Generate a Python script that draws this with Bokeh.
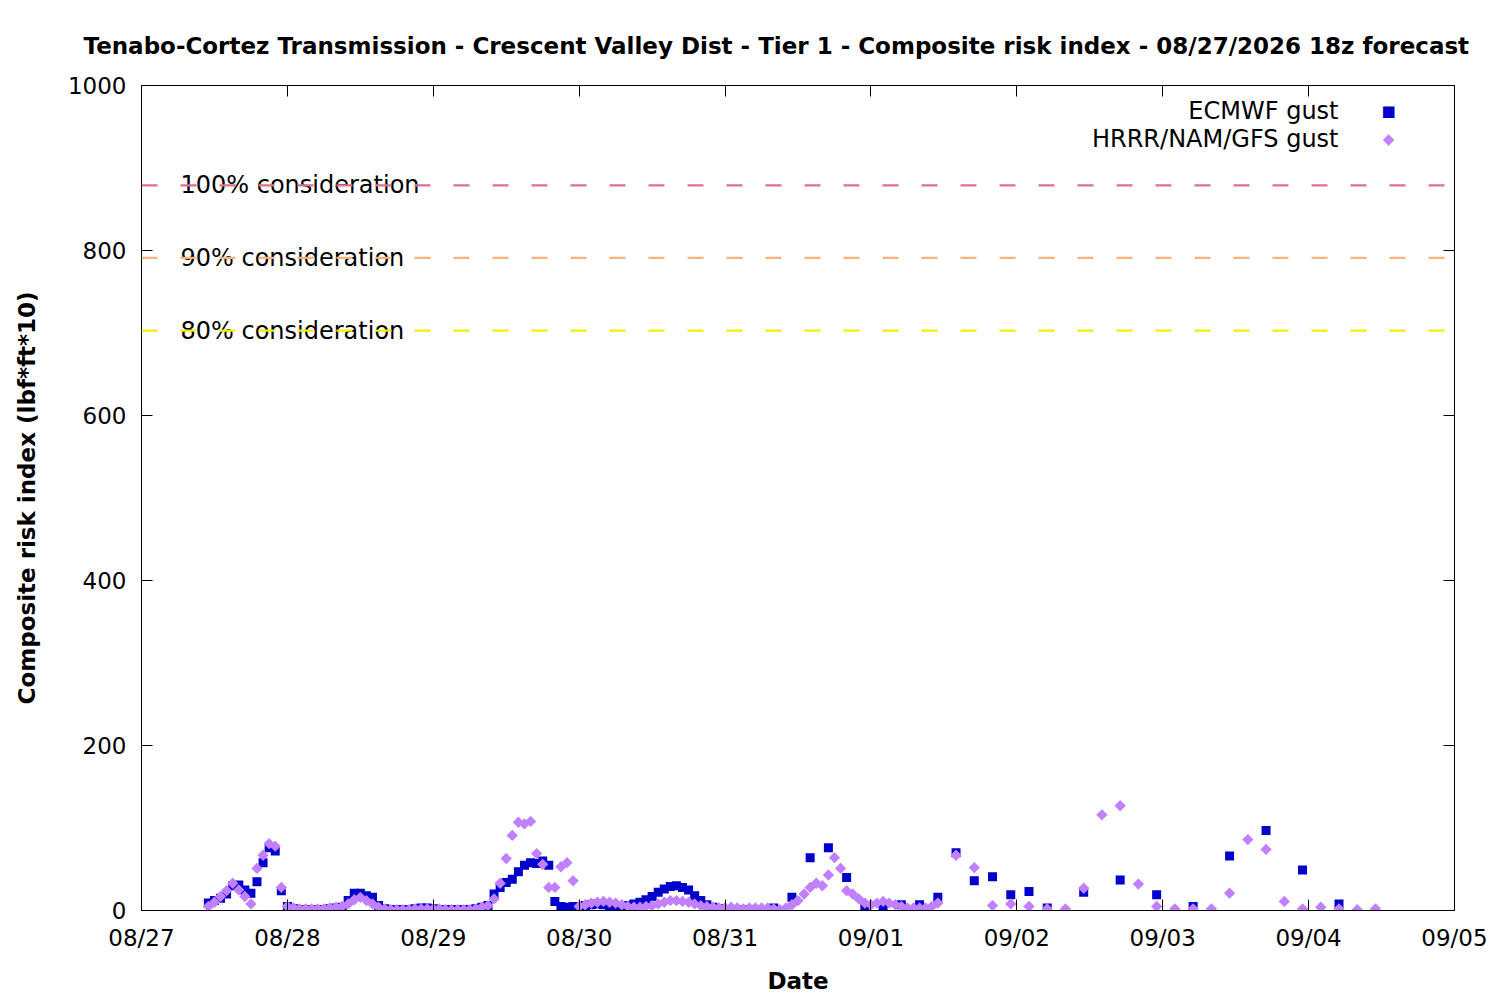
from bokeh.plotting import figure
from bokeh.models import Label, Span, LinearAxis, FixedTicker
from bokeh.embed import file_html
from bokeh.resources import INLINE
import numpy as np

# ---------------- data (hours since 08/27 00:00 local) ----------------
day_ticks = [0, 24, 48, 72, 96, 120, 144, 168, 192, 216]
day_labels = ["08/27", "08/28", "08/29", "08/30", "08/31", "09/01", "09/02", "09/03", "09/04", "09/05"]
y_ticks = [0, 200, 400, 600, 800, 1000]

ecmwf_hours = list(range(11, 102)) + list(range(104, 150, 3)) + list(range(155, 198, 6))
ecmwf_vals = [
    9, 12, 15, 20, 30, 31, 25, 21, 35, 58, 76, 72, 24, 5,          # h11-h24
    2, 1, 1, 1, 1, 1, 2, 3, 4, 12, 21, 21, 18, 16, 6, 2,           # h25-h40
    1, 1, 1, 1, 2, 3, 3, 2, 1, 1, 1, 1, 1, 1, 2,                   # h41-h55
    4, 6, 20, 28, 34, 38, 47, 55, 58, 57, 60, 55, 11, 5, 4, 5,     # h56-h71
    5, 6, 7, 8, 7, 5, 4, 5, 6, 8, 10, 13, 17, 22, 26, 29, 30, 28,  # h72-h89
    25, 18, 12, 7, 4, 2, 1, 1, 1, 1, 1, 1,                         # h90-h101
    3, 16, 64, 76, 40, 4, 4, 7, 7, 16, 70, 36, 41, 19, 23, 3,      # 3-hourly h104-h149
    22, 37, 19, 5, 66, 97, 49, 8,                                  # 6-hourly h155-h197
]

hrrr_hours = list(range(11, 132)) + list(range(134, 204, 3))
hrrr_vals = [
    5, 10, 17, 24, 33, 25, 17, 8, 51, 67, 81, 78, 28, 5,           # h11-h24
    3, 2, 2, 2, 2, 2, 3, 4, 5, 8, 13, 16, 12, 8, 4, 2,             # h25-h40
    1, 1, 1, 1, 2, 2, 2, 2, 2, 1, 1, 1, 1, 1, 2,                   # h41-h55
    4, 6, 14, 33, 63, 91, 107, 105, 108, 69, 56, 28, 28, 53, 58, 36,  # h56-h71
    5, 7, 9, 10, 11, 10, 9, 7, 5, 4, 4, 5, 6, 8, 10, 12, 12, 11,   # h72-h89
    10, 8, 6, 5, 4, 3, 3, 4, 3, 2, 3, 3, 3, 3,                     # h90-h103
    2, 1, 3, 7, 12, 20, 28, 33, 30, 43, 64, 51, 24, 20, 14, 9,     # h104-h119
    7, 9, 11, 9, 7, 5, 3, 3, 3, 3, 5, 9,                           # h120-h131
    67, 52, 6, 8, 5, 2, 2, 27, 116, 127, 32, 5, 2, 2, 2, 21,       # 3-hourly h134-h179
    86, 74, 11, 2, 4, 2, 1, 2,                                     # h182-h203
]

thresholds = [879, 791, 703]
threshold_labels = ["100% consideration", "90% consideration", "80% consideration"]
threshold_colors = ["#e0708a", "#f8b27c", "#f0f000"]

series_names = ["ECMWF gust", "HRRR/NAM/GFS gust"]
series_colors = ["#0000cc", "#c080ff"]

title_text = "Tenabo-Cortez Transmission - Crescent Valley Dist - Tier 1 - Composite risk index - 08/27/2026 18z forecast"

FONT = "DejaVu Sans"

p = figure(width=1500, height=1000, output_backend="svg", toolbar_location=None,
           x_range=(0, 216), y_range=(0, 1000), title=title_text,
           min_border_left=141, min_border_right=46, min_border_top=85, min_border_bottom=90)
p.title.text_font = FONT
p.title.text_font_size = "23px"
p.title.text_font_style = "bold"
p.title.text_color = "black"
p.title.align = "left"
p.title.offset = -58
p.title.standoff = 53
p.background_fill_color = "white"
p.border_fill_color = "white"
p.outline_line_color = "black"
p.outline_line_width = 1
p.xgrid.visible = False
p.ygrid.visible = False

# axes
xa = p.xaxis[0]
xa.ticker = FixedTicker(ticks=day_ticks)
xa.major_label_overrides = {t: l for t, l in zip(day_ticks, day_labels)}
ya = p.yaxis[0]
ya.ticker = FixedTicker(ticks=y_ticks)
for ax in (xa, ya):
    ax.major_tick_in = 11
    ax.major_tick_out = 0
    ax.minor_tick_in = 0
    ax.minor_tick_out = 0
    ax.major_label_text_font = FONT
    ax.major_label_text_font_size = "23px"
    ax.major_label_text_color = "black"
    ax.axis_label_text_font = FONT
    ax.axis_label_text_font_size = "23px"
    ax.axis_label_text_font_style = "bold"
    ax.axis_label_text_color = "black"
    ax.axis_line_color = "black"
    ax.major_tick_line_color = "black"
xa.major_label_standoff = 14
ya.major_label_standoff = 15
xa.axis_label = "Date"
ya.axis_label = "Composite risk index (lbf*ft*10)"
xa.axis_label_standoff = 14
ya.axis_label_standoff = 25

# mirrored ticks on top / right
top = LinearAxis(ticker=FixedTicker(ticks=day_ticks))
right = LinearAxis(ticker=FixedTicker(ticks=y_ticks))
for ax in (top, right):
    ax.major_tick_in = 11
    ax.major_tick_out = 0
    ax.minor_tick_in = 0
    ax.minor_tick_out = 0
    ax.major_label_text_font_size = "0px"
    ax.major_label_text_alpha = 0
    ax.major_label_standoff = 0
    ax.axis_line_color = "black"
    ax.major_tick_line_color = "black"
p.add_layout(top, "above")
p.add_layout(right, "right")

# threshold labels (drawn under the dashed lines)
for v, txt in zip(thresholds, threshold_labels):
    p.add_layout(Label(x=0, y=v, x_offset=39, text=txt, text_font=FONT, text_font_size="24px",
                       text_color="black", text_baseline="middle", text_align="left"))
for v, c in zip(thresholds, threshold_colors):
    p.add_layout(Span(location=v, dimension="width", line_color=c, line_width=2.2, line_dash="16 23"))

# data
p.scatter(ecmwf_hours, ecmwf_vals, marker="square", size=9, color=series_colors[0], line_color=None)
p.scatter(hrrr_hours, hrrr_vals, marker="square", angle=np.pi / 4, size=8, color=series_colors[1], line_color=None)

# legend (text right-aligned, marker to the right)
leg_y = [800, 772]
for name, col, yy, mk in zip(series_names, series_colors, leg_y, ["\u25A0", "\u25C6"]):
    p.add_layout(Label(x=1197, y=yy, x_units="screen", y_units="screen", text=name, text_font=FONT,
                       text_font_size="24px", text_color="black", text_align="right", text_baseline="middle"))
    p.add_layout(Label(x=1247, y=yy, x_units="screen", y_units="screen", text=mk, text_font=FONT,
                       text_font_size="15px", text_color=col, text_align="center", text_baseline="middle"))

open("out.html", "w").write(file_html(p, INLINE))
